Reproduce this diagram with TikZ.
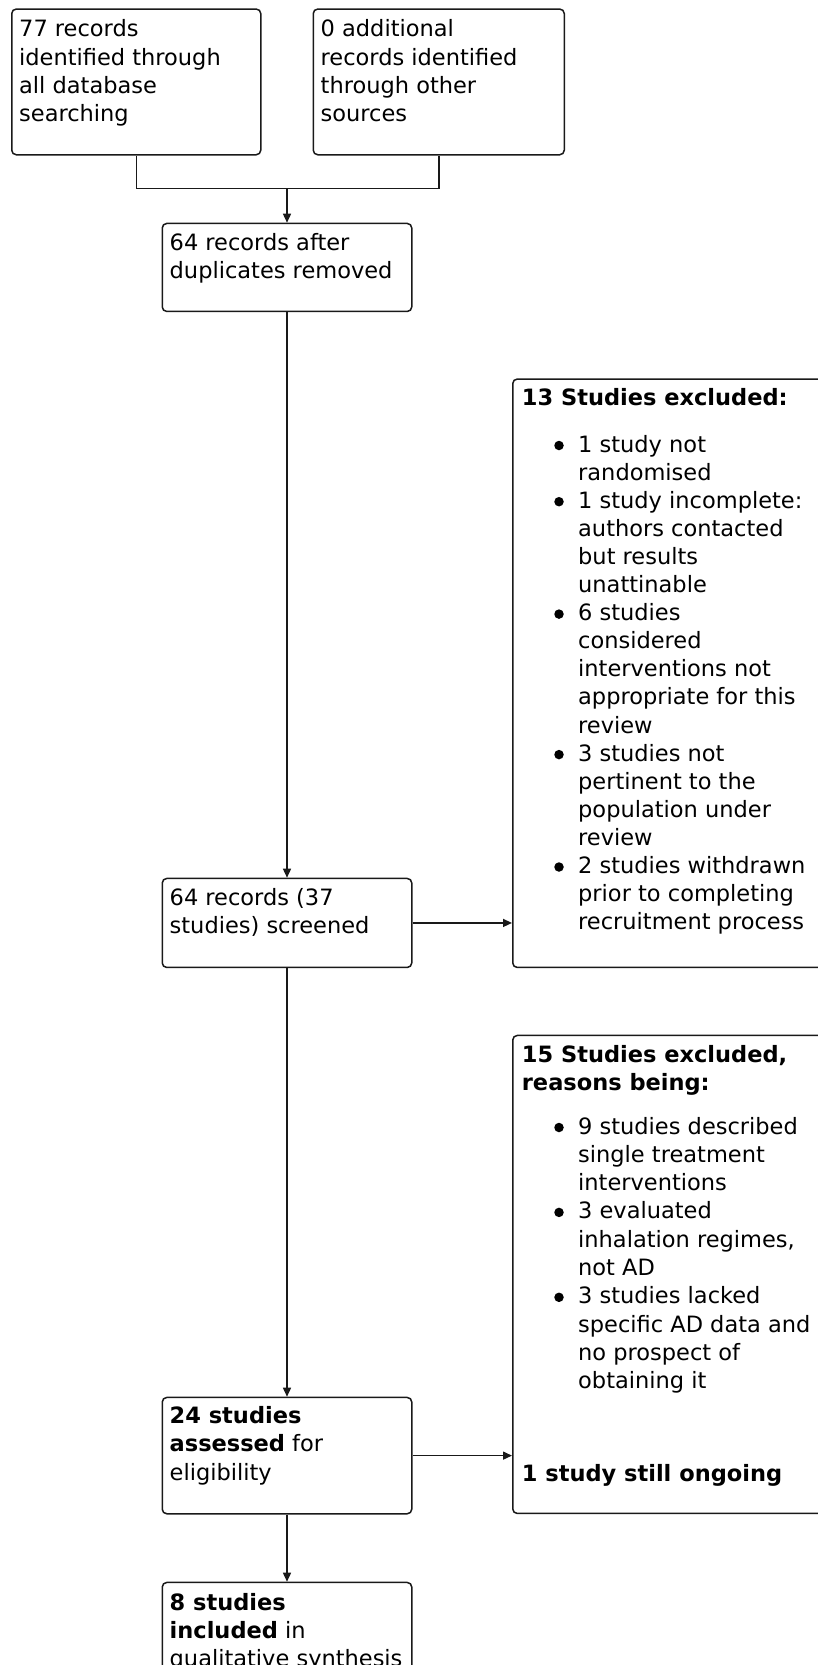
\documentclass[tikz,border=0pt]{standalone}
\usepackage{fontspec}
\setmainfont{DejaVu Sans}
\usetikzlibrary{arrows.meta}
\begin{document}
\begin{tikzpicture}[x=1pt,y=-1pt,
  box/.style={draw=black!90,line width=1.5pt,rounded corners=4.5pt,inner sep=0pt,anchor=north west},
  txt/.style={anchor=base west,inner sep=0pt,font=\fontsize{22.5pt}{28.3pt}\selectfont},
  hd/.style={anchor=base west,inner sep=0pt,font=\fontsize{22.5pt}{28.3pt}\selectfont\bfseries},
  dot/.style={circle,fill=black,inner sep=0pt,minimum size=9.5pt},
  conn/.style={line width=1.5pt,draw=black!90},
  arr/.style={conn,-{Triangle[length=9pt,width=8pt]}}]
\useasboundingbox (0,0) rectangle (818,1665);

% boxes
\node[box,minimum width=249pt,minimum height=145.7pt] (A) at (11,8.3) {};
\node[box,minimum width=251pt,minimum height=145.7pt] (B) at (312.5,8.3) {};
\node[box,minimum width=249.5pt,minimum height=88pt] (C) at (161.5,222.7) {};
\node[box,minimum width=249.5pt,minimum height=89pt] (D) at (161.5,877.7) {};
\node[box,minimum width=320pt,minimum height=588.4pt] (E) at (512,378.3) {};
\node[box,minimum width=249.5pt,minimum height=116.3pt] (F) at (161.5,1396.7) {};
\node[box,minimum width=320pt,minimum height=478pt] (G) at (512,1034.7) {};
\node[box,minimum width=249.5pt,minimum height=130pt] (H) at (161.5,1581.7) {};

% texts
\foreach \t [count=\i from 0] in {77 records, identified through, all database, searching}
  \node[txt] (a\i) at (19,36.7+\i*28.4) {\t};
\foreach \t [count=\i from 0] in {0 additional, records identified, through other, sources}
  \node[txt] (b\i) at (320.5,36.7+\i*28.4) {\t};
\foreach \t [count=\i from 0] in {64 records after, duplicates removed}
  \node[txt] (c\i) at (169.5,250.2+\i*28.4) {\t};
\foreach \t [count=\i from 0] in {64 records (37, studies) screened}
  \node[txt] (d\i) at (169.5,905+\i*28.4) {\t};
\foreach \t [count=\i from 0] in {{\textbf{24 studies}}, {\textbf{assessed} for}, eligibility}
  \node[txt] (f\i) at (169.5,1423.3+\i*28.4) {\t};
\foreach \t [count=\i from 0] in {{\textbf{8 studies}}, {\textbf{included} in}, qualitative synthesis}
  \node[txt] (h\i) at (169.5,1610+\i*28.4) {\t};

% box E
\node[hd] (eh) at (521.7,405) {13 Studies excluded:};
\foreach \t [count=\i from 0] in {1 study not, randomised, 1 study incomplete:, authors contacted, but results, unattinable, 6 studies, considered, interventions not, appropriate for this, review, 3 studies not, pertinent to the, population under, review, 2 studies withdrawn, prior to completing, recruitment process}
  \node[txt] (e\i) at (578,452+\i*28.1) {\t};
\foreach \k in {0,2,6,11,15}
  \node[dot] (eb\k) at (559,452+\k*28.1-6.5) {};

% box G
\node[hd] (gh0) at (521.7,1062) {15 Studies excluded,};
\node[hd] (gh1) at (521.7,1090.3) {reasons being:};
\foreach \t [count=\i from 0] in {9 studies described, single treatment, interventions, 3 evaluated, {inhalation regimes,}, not AD, 3 studies lacked, specific AD data and, no prospect of, obtaining it}
  \node[txt] (g\i) at (578,1134+\i*28.3) {\t};
\foreach \k in {0,3,6}
  \node[dot] (gb\k) at (559,1134+\k*28.3-6.5) {};
\node[hd] (gend) at (521.7,1481) {1 study still ongoing};

% connectors
\path (C.north) ++(0,-34) coordinate (J);
\draw[conn] (A.south) |- (J) -| (B.south);
\draw[arr] (J) -- (C.north);
\draw[arr] (C.south) -- (D.north);
\draw[arr] (D.east) -- (D.east -| E.west);
\draw[arr] (D.south) -- (F.north);
\draw[arr] (F.east) -- (F.east -| G.west);
\draw[arr] (F.south) -- (H.north);
\end{tikzpicture}
\end{document}
